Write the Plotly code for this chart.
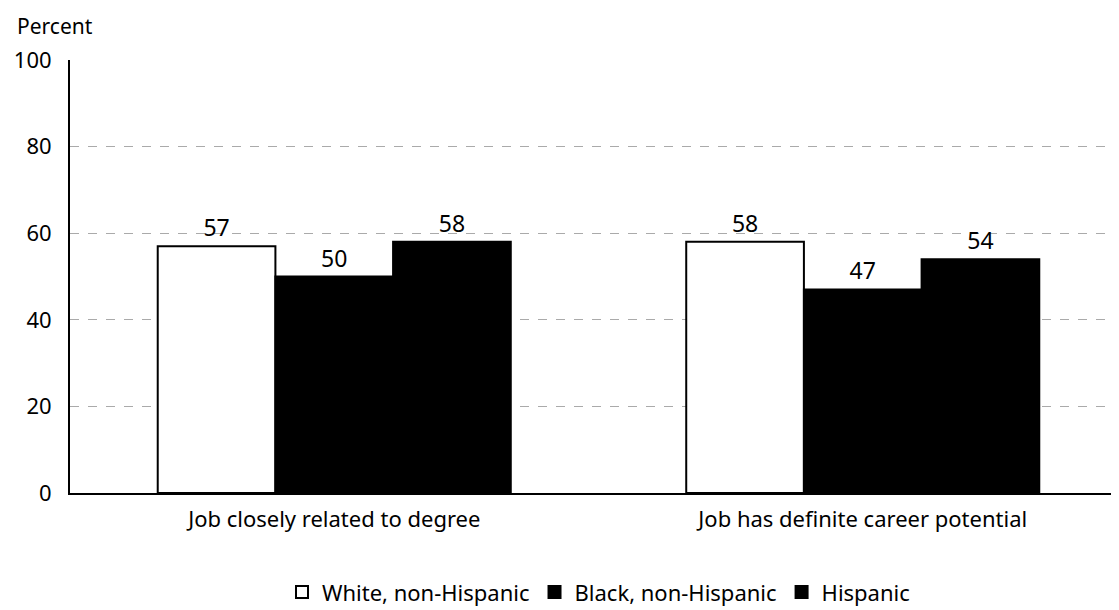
import plotly.graph_objects as go

categories = ["Job closely related to degree", "Job has definite career potential"]
series_names = ["White, non-Hispanic", "Black, non-Hispanic", "Hispanic"]
white_vals = [57, 58]
black_vals = [50, 47]
hisp_vals = [58, 54]
y_ticks = [0, 20, 40, 60, 80, 100]

FONT = "Noto Sans, DejaVu Sans, sans-serif"

fig = go.Figure()
for name, vals, color in [(series_names[0], white_vals, "white"),
                          (series_names[1], black_vals, "black"),
                          (series_names[2], hisp_vals, "black")]:
    fig.add_trace(go.Bar(
        x=categories, y=vals, name=name,
        marker=dict(color=color, line=dict(color="black", width=2)),
        text=[str(v) for v in vals], textposition="outside",
        textfont=dict(size=23, color="black", family=FONT),
        cliponaxis=False,
    ))

fig.update_layout(
    width=1119, height=610,
    margin=dict(l=62, r=0, t=52, b=125),
    paper_bgcolor="white", plot_bgcolor="white",
    barmode="group", bargap=0.332, bargroupgap=0,
    font=dict(family=FONT, size=22, color="black"),
    showlegend=True,
    legend=dict(orientation="h", x=0.5, y=-0.229, xanchor="center", yanchor="middle",
                font=dict(size=22), itemwidth=30, traceorder="normal"),
    xaxis=dict(showgrid=False, showline=True, linecolor="black", linewidth=2,
               ticks="", tickfont=dict(size=22), ticklabelstandoff=6),
    yaxis=dict(range=[0, 100], tickvals=y_ticks, showgrid=True, gridcolor="#aaaaaa",
               griddash="dash", gridwidth=1, showline=True, linecolor="black", linewidth=2,
               ticks="", tickfont=dict(size=22), ticklabelstandoff=12, zeroline=False),
    annotations=[dict(text="Percent", x=0, y=1, xref="paper", yref="paper",
                      xanchor="left", yanchor="middle", xshift=-55, yshift=34,
                      showarrow=False, font=dict(size=21))],
)

fig.write_html("out.html")
